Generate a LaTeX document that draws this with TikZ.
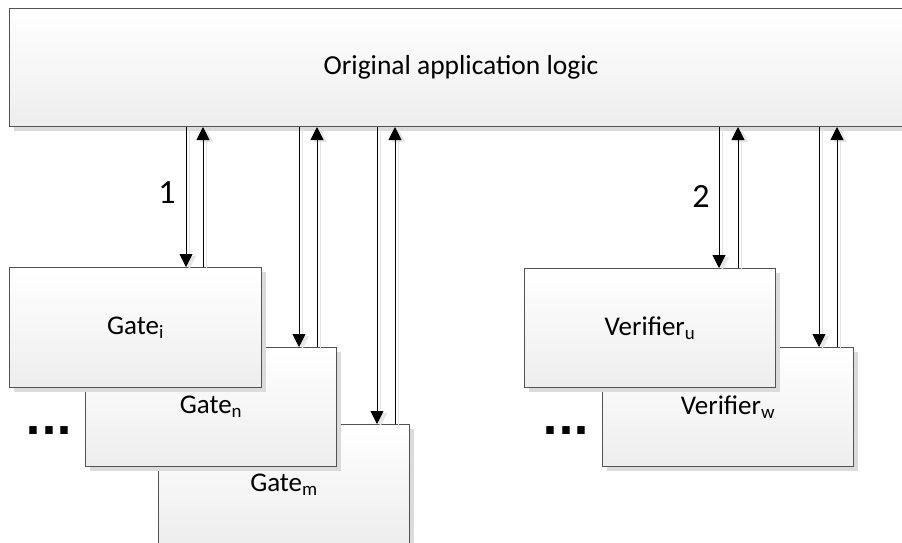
\documentclass[tikz,border=0pt]{standalone}
\usepackage{fontspec}
\setmainfont{Carlito}
\newfontfamily\dotfont{DejaVu Sans}
\usetikzlibrary{arrows.meta,shadows,calc}

\tikzset{
  unitbox/.style={draw=black!68, line width=1pt, rectangle, inner sep=0pt,
    top color=white, bottom color=black!7,
    drop shadow={shadow xshift=4pt, shadow yshift=-4pt, fill=black!14, opacity=1},
    font=\fontsize{27}{30}\selectfont},
  flow/.style={line width=0.9pt, draw=black,
    -{Triangle[width=13pt,length=13pt]},
    preaction={draw=black!10, line width=1.4pt,
      transform canvas={shift={(3.5pt,-2pt)}}}},
  steplabel/.style={font=\fontsize{34}{36}\selectfont},
  moredots/.style={font=\dotfont\bfseries\fontsize{42}{44}\selectfont, inner sep=0pt}
}

\begin{document}
\begin{tikzpicture}[x=1pt, y=-1pt]
  \useasboundingbox (0,0) rectangle (902,542);
  \clip (0,0) rectangle (902,542);

  % the shared application block at the top
  \node[unitbox, anchor=north west, minimum width=912pt, minimum height=118pt] (top) at (9,8) {};
  \node[font=\fontsize{27.5}{30}\selectfont] (toptext) at (461,67) {Original application logic};

  % stacked gates, back to front
  \node[unitbox, anchor=north west, minimum width=251pt, minimum height=120pt] (gm) at (158,424) {Gate\textsubscript{m}};
  \node[unitbox, anchor=north west, minimum width=251pt, minimum height=119pt] (gn) at (85,347) {Gate\textsubscript{n}};
  \node[unitbox, anchor=north west, minimum width=252pt, minimum height=120pt] (gi) at (9,267) {Gate\textsubscript{i}};

  % stacked verifiers, back to front
  \node[unitbox, anchor=north west, minimum width=251pt, minimum height=119pt] (vw) at (602,347) {Verifier\textsubscript{w}};
  \node[unitbox, anchor=north west, minimum width=251pt, minimum height=119pt] (vu) at (524,268) {Verifier\textsubscript{u}};

  % attachment points on the top edges of the lower blocks
  \coordinate (gi-in)  at ($(gi.north west)+(177,0)$);
  \coordinate (gi-out) at ($(gi.north west)+(194,0)$);
  \coordinate (gn-in)  at ($(gn.north west)+(214,0)$);
  \coordinate (gn-out) at ($(gn.north west)+(232,0)$);
  \coordinate (gm-in)  at ($(gm.north west)+(219,0)$);
  \coordinate (gm-out) at ($(gm.north west)+(237,0)$);
  \coordinate (vu-in)  at ($(vu.north west)+(195,0)$);
  \coordinate (vu-out) at ($(vu.north west)+(214,0)$);
  \coordinate (vw-in)  at ($(vw.north west)+(217,0)$);
  \coordinate (vw-out) at ($(vw.north west)+(235,0)$);

  % requests down, replies up
  \draw[flow] (top.south -| gi-in) -- (gi-in);
  \draw[flow] (gi-out) -- (top.south -| gi-out);
  \draw[flow] (top.south -| gn-in) -- (gn-in);
  \draw[flow] (gn-out) -- (top.south -| gn-out);
  \draw[flow] (top.south -| gm-in) -- (gm-in);
  \draw[flow] (gm-out) -- (top.south -| gm-out);
  \draw[flow] (top.south -| vu-in) -- (vu-in);
  \draw[flow] (vu-out) -- (top.south -| vu-out);
  \draw[flow] (top.south -| vw-in) -- (vw-in);
  \draw[flow] (vw-out) -- (top.south -| vw-out);

  % step numbers
  \node[steplabel] (lab1) at (167,193) {1};
  \node[steplabel] (lab2) at (701,196) {2};

  % further instances
  \node[moredots] (dots1) at (49,431) {...};
  \node[moredots] (dots2) at (566,431) {...};
\end{tikzpicture}
\end{document}
